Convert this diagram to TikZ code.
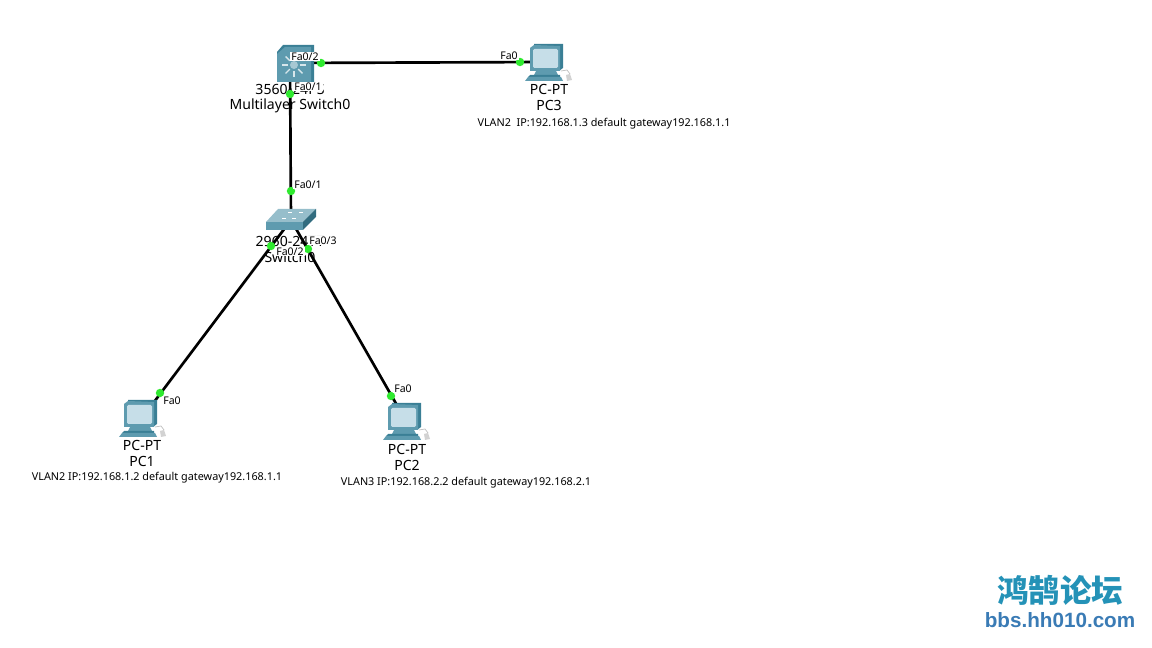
\documentclass[tikz,border=0pt]{standalone}
\usepackage{fontspec}
\usepackage{tikz}
\setmainfont{Noto Sans}
\newfontfamily\cjkfont{Noto Sans CJK SC}
\newfontfamily\markfont{Liberation Sans}
\definecolor{ptbody}{HTML}{5E9BAF}
\definecolor{ptdark}{HTML}{3A7F95}
\definecolor{ptlight}{HTML}{C6DEE8}
\definecolor{ptgreen}{HTML}{2FEA2F}
\definecolor{hhblue}{HTML}{3A7BB5}
\tikzset{
 pt link/.style={line width=1.9pt,draw=black},
 pt port/.style={circle,fill=ptgreen,inner sep=0pt,minimum size=6pt},
 pt dev/.style={font=\fontsize{10}{11}\selectfont,inner sep=0pt},
 pt tag/.style={font=\fontsize{7.5}{8}\selectfont,fill=white,inner sep=.6pt},
 pt note/.style={font=\fontsize{7.7}{9}\selectfont,inner sep=0pt},
 pics/pt pc/.style={code={
   \fill[ptdark] (-14,-18)--(15,-18)--(15,6)--(11,9)--(-14,9)--cycle;
   \fill[ptbody] (-18,-14)--(-14,-17)--(12,-16)--(12,9)--(-18,9)--cycle;
   \fill[ptlight,rounded corners=1pt] (-15,-13) rectangle (10,6);
   \fill[ptbody] (-12,9)--(8,9)--(10,13)--(-14,13)--cycle;
   \fill[ptdark] (-18,13)--(12,13)--(12,15)--(-20,15)--cycle;
   \fill[ptbody] (-20,15)--(13,15)--(15,19)--(-23,19)--cycle;
   \draw[gray!50,line width=.5pt] (13,9)--(19,8)--(22,12);
   \fill[gray!35] (18,13)--(22,12)--(24,18)--(19,19)--cycle;
 }},
 pics/pt mls/.style={code={
   \fill[ptdark] (-7,-18)--(24,-18)--(24,19)--(-13,19)--(-13,-11)--cycle;
   \fill[ptbody] (-13,-9)--(-5,-16)--(21,-16)--(21,19)--(-13,19)--cycle;
   \foreach \ang in {0,45,...,315}
     \draw[white!75!ptbody,line width=1pt] (\ang:6)++(4,2)--++(\ang:6);
   \fill[white!45!ptbody] (4,2) circle (4);
 }},
 pics/pt switch/.style={code={
   \fill[ptbody!65!white] (-25,2)--(-13,-11)--(25,-11)--(12,2)--cycle;
   \fill[ptbody] (-25,2)--(12,2)--(12,10)--(-25,10)--cycle;
   \fill[ptdark!85!black] (12,2)--(25,-11)--(25,-3)--(12,10)--cycle;
   \draw[white,line width=.7pt] (-9,-2)--(-5,-2) (1,-2)--(5,-2) (-3,-8)--(1,-8) (8,-8)--(12,-8);
 }}
}
\begin{document}
\begin{tikzpicture}[x=.025cm,y=-.025cm]
\useasboundingbox (0,0) rectangle (1152,648);
\coordinate (mls) at (290,63);
\coordinate (sw) at (291,220);
\coordinate (pc1) at (142,418);
\coordinate (pc2) at (406,421);
\coordinate (pc3) at (548,62);
% links first, the icons sit on top
\draw[pt link] (mls)--(pc3);
\draw[pt link] (mls)--(sw);
\draw[pt link] (sw)--(pc1);
\draw[pt link] (sw)--(pc2);
\pic at (mls) {pt mls};
\pic at (sw) {pt switch};
\pic at (pc1) {pt pc};
\pic at (pc2) {pt pc};
\pic at (pc3) {pt pc};
% device names
\node[pt dev] (mlstype) at (290,89.5) {3560-24PS};
\node[pt dev] (mlsname) at (290,106) {Multilayer Switch0};
\node[pt dev] (swtype) at (290,241) {2960-24TT};
\node[pt dev] (swname) at (290,257) {Switch0};
\node[pt dev] (pc1type) at (142,445) {PC-PT};
\node[pt dev] (pc1name) at (142,461) {PC1};
\node[pt dev] (pc2type) at (407,449) {PC-PT};
\node[pt dev] (pc2name) at (407,465) {PC2};
\node[pt dev] (pc3type) at (549,89) {PC-PT};
\node[pt dev] (pc3name) at (549,105) {PC3};
% port dots
\node[pt port] (mlsp2) at (321,63) {};
\node[pt port] (mlsp1) at (290,94) {};
\node[pt port] (swp1) at (291,191) {};
\node[pt port] (swp2) at (271,246) {};
\node[pt port] (swp3) at (308,249) {};
\node[pt port] (pc1p) at (160,393) {};
\node[pt port] (pc2p) at (391,396) {};
\node[pt port] (pc3p) at (520,62) {};
% port labels
\node[pt tag] (mlst2) at (305,56.5) {Fa0/2};
\node[pt tag] (mlst1) at (308,86.5) {Fa0/1};
\node[pt tag] (swt1) at (308,184.5) {Fa0/1};
\node[pt tag] (swt3) at (323,240.5) {Fa0/3};
\node[pt tag] (swt2) at (290,251.5) {Fa0/2};
\node[pt tag] (pc1t) at (172,400.5) {Fa0};
\node[pt tag] (pc2t) at (403,388.5) {Fa0};
\node[pt tag] (pc3t) at (509,55.5) {Fa0};
% notes
\node[pt note] (pc1note) at (157,478) {VLAN2 IP:192.168.1.2 default gateway192.168.1.1};
\node[pt note] (pc2note) at (466,482.5) {VLAN3 IP:192.168.2.2 default gateway192.168.2.1};
\node[pt note] (pc3note) at (604,123.5) {VLAN2\ \ IP:192.168.1.3 default gateway192.168.1.1};
% forum mark
\node[inner sep=0pt,text=hhblue!70!cyan!90!black,font=\cjkfont\bfseries\fontsize{22.4}{24}\selectfont] (hhcn) at (1060,590) {鸿鹄论坛};
\node[inner sep=0pt,text=hhblue,font=\markfont\bfseries\fontsize{14.7}{16}\selectfont] (hhurl) at (1060,620) {bbs.hh010.com};
\end{tikzpicture}
\end{document}
